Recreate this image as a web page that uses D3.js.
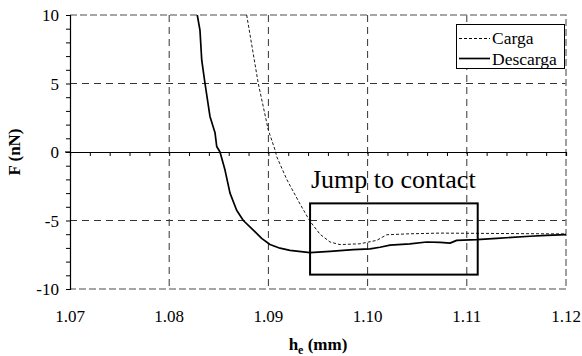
<!DOCTYPE html>
<html>
<head>
<meta charset="utf-8">
<script src="https://cdn.jsdelivr.net/npm/d3@7"></script>
<style>
  html, body { margin: 0; padding: 0; background: #fff; }
  svg { display: block; }
</style>
</head>
<body>
<svg id="chart" width="582" height="356"></svg>
<script>
// ---- data ----
const descargaH = [1.08283, 1.08310, 1.08328, 1.08361, 1.08411, 1.08462, 1.08479, 1.08512, 1.08562, 1.08613,
                   1.08680, 1.08747, 1.08848, 1.08932, 1.09016, 1.09117, 1.09218, 1.09419, 1.09621, 1.09856,
                   1.10024, 1.10125, 1.10226, 1.10427, 1.10596, 1.10730, 1.10831, 1.10898, 1.11100, 1.11302,
                   1.11637, 1.11805, 1.12000];
const descargaF = [10, 8.9, 6.7, 5.0, 2.6, 1.4, 0.4, 0, -1.3, -3.0,
                   -4.25, -5.0, -5.7, -6.3, -6.75, -7.02, -7.18, -7.35, -7.25, -7.13,
                   -7.07, -6.95, -6.8, -6.7, -6.57, -6.6, -6.65, -6.45, -6.4, -6.3,
                   -6.15, -6.08, -6.03];
const cargaH = [1.08781, 1.08898, 1.08999, 1.09067, 1.09084, 1.09185, 1.09319, 1.09419, 1.09520, 1.09621,
                1.09722, 1.09923, 1.10092, 1.10193, 1.10427, 1.10730, 1.12000];
const cargaF = [10, 5, 1.6, 0.15, -0.34, -2.0, -3.8, -5.05, -6.0, -6.57,
                -6.76, -6.7, -6.45, -6.04, -5.97, -5.92, -5.98];
const xTicks = [1.07, 1.08, 1.09, 1.10, 1.11, 1.12];
const yTicks = [-10, -5, 0, 5, 10];
const seriesNames = ["Carga", "Descarga"];
const annotation = "Jump to contact";
const boxH = [1.0942, 1.1111];
const boxF = [-3.75, -8.95];

// ---- layout ----
const FONT = "'Liberation Serif', 'Times New Roman', Times, 'DejaVu Serif', serif";
const svg = d3.select("#chart").style("font-family", FONT);
const L = 70, R = 566, T = 15, B = 289;
const x = d3.scaleLinear().domain([1.07, 1.12]).range([L, R]);
const y = d3.scaleLinear().domain([-10, 10]).range([B, T]);

svg.append("defs").append("clipPath").attr("id", "clip")
  .append("rect").attr("x", L).attr("y", T).attr("width", R - L).attr("height", B - T);

// grid lines
const gridX = xTicks.filter(d => d > 1.0701 && d < 1.1199);
svg.append("g").selectAll("line").data(gridX).join("line")
  .attr("x1", d => x(d)).attr("x2", d => x(d)).attr("y1", T).attr("y2", B)
  .attr("stroke", "#333").attr("stroke-width", 1).attr("stroke-dasharray", "7,5");
const gridY = yTicks.filter(d => d === 5 || d === -5);
svg.append("g").selectAll("line").data(gridY).join("line")
  .attr("x1", L).attr("x2", R).attr("y1", d => y(d)).attr("y2", d => y(d))
  .attr("stroke", "#333").attr("stroke-width", 1).attr("stroke-dasharray", "7,5");

// plot border (top, right, bottom) dashed gray
svg.append("path")
  .attr("d", `M${L},${T}H${R}V${B}H${L}`)
  .attr("fill", "none").attr("stroke", "#888").attr("stroke-width", 1.6)
  .attr("stroke-dasharray", "7,3");

// curves
const line = d3.line().x(d => x(d[0])).y(d => y(d[1]));
const cargaPts = cargaH.map((h, i) => [h, cargaF[i]]);
const descargaPts = descargaH.map((h, i) => [h, descargaF[i]]);
const gCurves = svg.append("g").attr("clip-path", "url(#clip)");
gCurves.append("path").datum(cargaPts).attr("d", line)
  .attr("fill", "none").attr("stroke", "#000").attr("stroke-width", 0.9)
  .attr("stroke-dasharray", "3,2");
gCurves.append("path").datum(descargaPts).attr("d", line)
  .attr("fill", "none").attr("stroke", "#000").attr("stroke-width", 1.7)
  .attr("stroke-linejoin", "round");

// y axis (left)
const yAxis = d3.axisLeft(y).tickValues(d3.range(-10, 10.5, 1)).tickSize(4).tickFormat("");
const gy = svg.append("g").attr("transform", `translate(${L},0)`).call(yAxis);
gy.select(".domain").attr("stroke", "#000").attr("stroke-width", 1.2);
gy.selectAll(".tick line").attr("stroke", "#000").attr("stroke-width", 1);
svg.append("g").selectAll("text").data(yTicks).join("text")
  .attr("x", 59).attr("y", d => y(d) + 6)
  .attr("text-anchor", "end").attr("font-size", 17).attr("font-family", FONT)
  .text(d => d);

// x axis at zero line
const xAxis = d3.axisBottom(x).tickValues(d3.range(0, 26).map(i => 1.07 + i * 0.002)).tickSize(4).tickFormat("");
const gx = svg.append("g").attr("transform", `translate(0,${y(0)})`).call(xAxis);
gx.select(".domain").attr("stroke", "#000").attr("stroke-width", 1.2);
gx.selectAll(".tick line").attr("stroke", "#000").attr("stroke-width", 1);
svg.append("line").attr("x1", L - 5).attr("x2", L).attr("y1", y(0)).attr("y2", y(0))
  .attr("stroke", "#000").attr("stroke-width", 1.2);
svg.append("g").selectAll("text").data(xTicks).join("text")
  .attr("x", d => x(d)).attr("y", 322)
  .attr("text-anchor", "middle").attr("font-size", 17).attr("font-family", FONT)
  .text(d => d.toFixed(2));

// axis titles
svg.append("text")
  .attr("transform", `translate(20,${(T + B) / 2}) rotate(-90)`)
  .attr("text-anchor", "middle").attr("font-size", 17).attr("font-weight", "bold").attr("font-family", FONT)
  .text("F (nN)");
const xt = svg.append("text")
  .attr("x", (L + R) / 2).attr("y", 350)
  .attr("text-anchor", "middle").attr("font-size", 17).attr("font-weight", "bold").attr("font-family", FONT);
xt.append("tspan").text("h");
xt.append("tspan").attr("font-size", 12).attr("dy", 4).text("e");
xt.append("tspan").attr("dy", -4).text(" (mm)");

// annotation
svg.append("text").attr("x", 311).attr("y", 188).attr("font-size", 26).attr("font-family", FONT).text(annotation);
svg.append("rect")
  .attr("x", x(boxH[0])).attr("y", y(boxF[0]))
  .attr("width", x(boxH[1]) - x(boxH[0])).attr("height", y(boxF[1]) - y(boxF[0]))
  .attr("fill", "none").attr("stroke", "#000").attr("stroke-width", 2);

// legend
const lg = svg.append("g");
lg.append("rect").attr("x", 456.5).attr("y", 24.5).attr("width", 108).attr("height", 44)
  .attr("fill", "#fff").attr("stroke", "#000").attr("stroke-width", 1);
const legendRows = [{ dash: "3,2", w: 1, ly: 38.5, ty: 43.5 }, { dash: null, w: 1.7, ly: 58.5, ty: 65 }];
legendRows.forEach((r, i) => {
  lg.append("line").attr("x1", 459).attr("x2", 490).attr("y1", r.ly).attr("y2", r.ly)
    .attr("stroke", "#000").attr("stroke-width", r.w).attr("stroke-dasharray", r.dash);
  lg.append("text").attr("x", 492).attr("y", r.ty).attr("font-size", 17.5).attr("font-family", FONT).text(seriesNames[i]);
});
</script>
</body>
</html>
